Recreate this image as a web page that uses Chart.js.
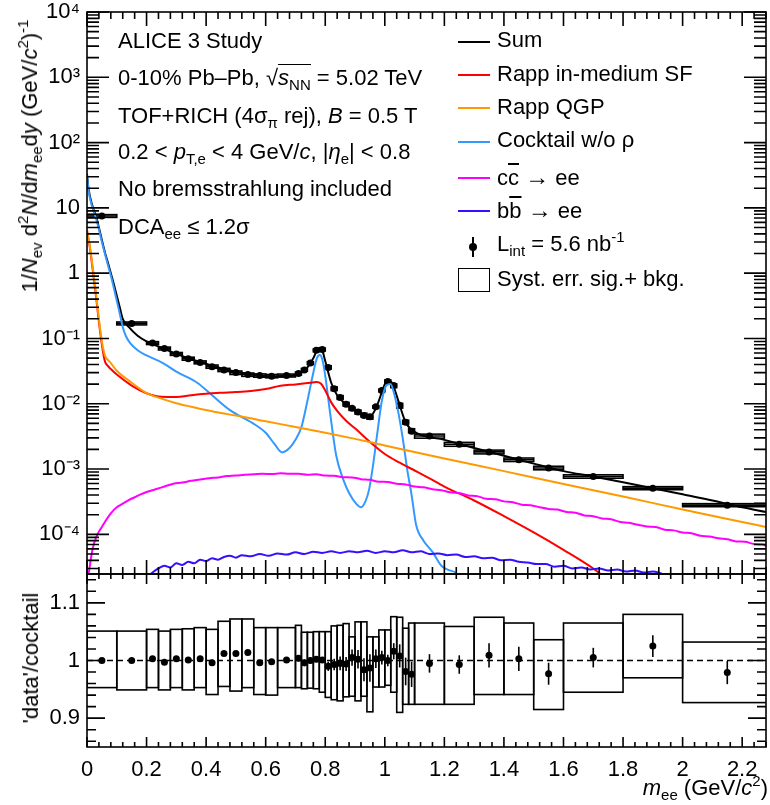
<!DOCTYPE html>
<html>
<head>
<meta charset="utf-8">
<title>ALICE 3 dielectron spectrum</title>
<script src="https://cdn.jsdelivr.net/npm/chart.js@4.4.1/dist/chart.umd.min.js"></script>
<style>
  body { margin: 0; background: #fff; }
  #page { position: relative; width: 770px; height: 805px; overflow: hidden;
          font-family: "Liberation Sans", Arial, Helvetica, sans-serif; color: #000; }
  canvas { position: absolute; left: 0; }
  #cTop { top: 0; }
  #cBot { top: 560px; }
  .t { position: absolute; font-size: 22px; line-height: 22px; white-space: nowrap; }
  .sb { font-size: 15px; position: relative; top: 5px; }
  .sp { font-size: 15px; position: relative; top: -9px; }
  .ov { text-decoration: overline; }
  .ln { position: absolute; left: 458px; width: 32px; height: 2px; }
</style>
</head>
<body>
<div id="page">
  <canvas id="cTop" width="770" height="580"></canvas>
  <canvas id="cBot" width="770" height="245"></canvas>

  <!-- annotations -->
  <div class="t" style="left:118px;top:30px">ALICE 3 Study</div>
  <div class="t" style="left:118px;top:67px">0-10% Pb–Pb, √<span style="border-top:1.5px solid #000"><i>s</i><span class="sb">NN</span></span> = 5.02 TeV</div>
  <div class="t" style="left:118px;top:105px">TOF+RICH (4σ<span class="sb">π</span> rej), <i>B</i> = 0.5 T</div>
  <div class="t" style="left:118px;top:141px">0.2 &lt; <i>p</i><span class="sb">T,e</span> &lt; 4 GeV/<i>c</i>, |<i>η</i><span class="sb">e</span>| &lt; 0.8</div>
  <div class="t" style="left:118px;top:178px">No bremsstrahlung included</div>
  <div class="t" style="left:118px;top:216px">DCA<span class="sb">ee</span> ≤ 1.2σ</div>

  <!-- legend -->
  <div class="ln" style="top:41px;background:#000"></div>
  <div class="t" style="left:497px;top:29px">Sum</div>
  <div class="ln" style="top:74px;background:#ff0000"></div>
  <div class="t" style="left:497px;top:63px">Rapp in-medium SF</div>
  <div class="ln" style="top:107px;background:#ff9900"></div>
  <div class="t" style="left:497px;top:96px">Rapp QGP</div>
  <div class="ln" style="top:141px;background:#3399ff"></div>
  <div class="t" style="left:497px;top:129px">Cocktail w/o ρ</div>
  <div class="ln" style="top:177px;background:#ff00ff"></div>
  <div class="t" style="left:497px;top:166px">c<span class="ov">c</span> <span style="font-size:24px">→</span> ee</div>
  <div class="ln" style="top:210px;background:#3311ff"></div>
  <div class="t" style="left:497px;top:199px">b<span class="ov">b</span> <span style="font-size:24px">→</span> ee</div>
  <div style="position:absolute;left:472px;top:237px;width:1.6px;height:20px;background:#000"></div>
  <div style="position:absolute;left:469px;top:243px;width:8px;height:8px;border-radius:50%;background:#000"></div>
  <div class="t" style="left:497px;top:233px">L<span class="sb">int</span> = 5.6 nb<span class="sp">-1</span></div>
  <div style="position:absolute;left:458px;top:268px;width:30px;height:22px;border:1.6px solid #000"></div>
  <div class="t" style="left:497px;top:268px">Syst. err. sig.+ bkg.</div>

  <!-- axis titles -->
  <div class="t" style="left:31px;top:156px;transform:translate(-50%,-50%) rotate(-90deg)">1/<i>N</i><span class="sb">ev</span> d<span class="sp">2</span><i>N</i>/d<i>m</i><span class="sb">ee</span>d<i>y</i> (GeV/<i>c</i><span class="sp">2</span>)<span class="sp">-1</span></div>
  <div class="t" style="left:31px;top:658px;transform:translate(-50%,-50%) rotate(-90deg)">'data'/cocktail</div>
  <div class="t" style="right:2px;top:777px"><i>m</i><span class="sb">ee</span> (GeV/<i>c</i><span class="sp">2</span>)</div>
</div>

<script>
// ---- axis ticks ----
var xTickValues = [0, 0.2, 0.4, 0.6, 0.8, 1.0, 1.2, 1.4, 1.6, 1.8, 2.0, 2.2];
var xTickLabels = ['0', '0.2', '0.4', '0.6', '0.8', '1', '1.2', '1.4', '1.6', '1.8', '2', '2.2'];
var yTickValues = [1e-4, 1e-3, 1e-2, 1e-1, 1, 10, 100, 1000, 10000];
var yTickLabels = ['10\u207B\u2074', '10\u207B\u00B3', '10\u207B\u00B2', '10\u207B\u00B9', '1', '10', '10\u00B2', '10\u00B3', '10\u2074'];
var rTickValues = [0.9, 1.0, 1.1];
var rTickLabels = ['0.9', '1', '1.1'];

// ---- measured points (bins) ----
var binEdges = [0, 0.1, 0.2, 0.24, 0.28, 0.32, 0.36, 0.40, 0.44, 0.48, 0.52, 0.56, 0.60, 0.64, 0.70,
  0.72, 0.74, 0.76, 0.78, 0.80, 0.82, 0.84, 0.86, 0.88, 0.90, 0.92, 0.94, 0.96, 0.98, 1.00,
  1.02, 1.04, 1.06, 1.08, 1.10, 1.2, 1.3, 1.4, 1.5, 1.6, 1.8, 2.0, 2.3];
var dataY = [7.5, 0.17, 0.085, 0.07, 0.058, 0.049, 0.043, 0.037, 0.033, 0.030, 0.028, 0.027, 0.0265, 0.027, 0.029,
  0.033, 0.042, 0.066, 0.068, 0.036, 0.017, 0.0125, 0.0098, 0.0085, 0.0075, 0.0066, 0.0063, 0.0090, 0.016, 0.022,
  0.019, 0.0095, 0.0052, 0.0038,
  0.0032, 0.0024, 0.00183, 0.00139, 0.00104, 0.00077, 0.00051, 0.00028];
var ratio = [1.0, 1.0, 1.003, 0.997, 1.003, 1.001, 1.003, 0.996, 1.012, 1.012, 1.014, 0.996, 0.998, 1.001, 1.004,
  0.996, 1.0, 1.002, 1.001, 0.99, 0.993, 0.995, 0.994, 1.005, 1.002, 0.984, 0.987, 1.003, 1.005, 1.0,
  1.016, 1.008, 0.981, 0.976,
  0.995, 0.993, 1.009, 1.003, 0.977, 1.005, 1.025, 0.979];
var ratioErr = [0.003, 0.003, 0.003, 0.003, 0.003, 0.003, 0.003, 0.003, 0.004, 0.004, 0.004, 0.004, 0.004, 0.004, 0.005,
  0.006, 0.006, 0.005, 0.005, 0.008, 0.01, 0.012, 0.012, 0.014, 0.016, 0.02, 0.024, 0.016, 0.012, 0.01,
  0.014, 0.02, 0.024, 0.022,
  0.016, 0.016, 0.021, 0.021, 0.019, 0.017, 0.019, 0.02];
var systLo = [0.953, 0.949, 0.953, 0.949, 0.953, 0.949, 0.953, 0.941, 0.955, 0.947, 0.953, 0.941, 0.940, 0.953, 0.953,
  0.951, 0.952, 0.951, 0.945, 0.936, 0.932, 0.930, 0.937, 0.938, 0.930, 0.938, 0.911, 0.954, 0.954, 0.957,
  0.945, 0.910, 0.924, 0.924,
  0.924, 0.924, 0.941, 0.941, 0.915, 0.945, 0.970, 0.927];
var systHi = [1.051, 1.051, 1.054, 1.051, 1.054, 1.055, 1.057, 1.054, 1.068, 1.072, 1.072, 1.057, 1.057, 1.057, 1.061,
  1.049, 1.049, 1.050, 1.050, 1.050, 1.060, 1.061, 1.064, 1.041, 1.067, 1.067, 1.041, 1.041, 1.053, 1.053,
  1.076, 1.075, 1.056, 1.065,
  1.065, 1.059, 1.075, 1.065, 1.036, 1.065, 1.080, 1.032];

// ---- curves ----
var sumX = [0, 0.005, 0.01, 0.02, 0.03, 0.04, 0.05, 0.06, 0.07, 0.08,
  0.09, 0.10, 0.11, 0.12, 0.14, 0.17, 0.20, 0.25, 0.30, 0.35,
  0.40, 0.45, 0.50, 0.55, 0.60, 0.65, 0.70, 0.72, 0.74, 0.76,
  0.77, 0.78, 0.79, 0.80, 0.82, 0.84, 0.87, 0.90, 0.93, 0.95,
  0.97, 0.99, 1.00, 1.01, 1.02, 1.03, 1.05, 1.07, 1.10, 1.2,
  1.3, 1.4, 1.5, 1.6, 1.7, 1.8, 1.9, 2.0, 2.1, 2.2, 2.28];
var sumY = [33, 20, 15, 10, 7.5, 5, 3.2, 2.1, 1.45, 1.0,
  0.68, 0.45, 0.3, 0.2, 0.15, 0.11, 0.09, 0.072, 0.058, 0.048,
  0.041, 0.035, 0.031, 0.028, 0.0265, 0.026, 0.0275, 0.03, 0.036, 0.05,
  0.063, 0.072, 0.066, 0.045, 0.021, 0.0135, 0.0098, 0.0078, 0.0066, 0.0064,
  0.0085, 0.015, 0.02, 0.0225, 0.022, 0.018, 0.0095, 0.0052, 0.0037, 0.0028,
  0.0021, 0.0016, 0.00121, 0.00093, 0.00077, 0.00063, 0.00051, 0.00041, 0.00033, 0.00026, 0.00022];

var cockX = [0, 0.005, 0.01, 0.02, 0.03, 0.04, 0.05, 0.06, 0.07, 0.08,
  0.09, 0.10, 0.11, 0.12, 0.13, 0.145, 0.17, 0.20, 0.255, 0.30,
  0.37, 0.42, 0.48, 0.555, 0.60, 0.63, 0.655, 0.68, 0.70, 0.72,
  0.74, 0.757, 0.772, 0.782, 0.79, 0.80, 0.815, 0.837, 0.86, 0.88,
  0.905, 0.92, 0.935, 0.947, 0.96, 0.975, 0.99, 1.005, 1.019, 1.03,
  1.045, 1.06, 1.075, 1.09, 1.105, 1.13, 1.16, 1.19, 1.24];
var cockY = [32, 19, 14, 9.5, 7, 4.7, 3.0, 2.0, 1.35, 0.92,
  0.6, 0.38, 0.24, 0.15, 0.11, 0.085, 0.066, 0.055, 0.042, 0.031,
  0.021, 0.0135, 0.008, 0.0051, 0.0036, 0.0024, 0.0018, 0.0021, 0.0028, 0.0044,
  0.011, 0.026, 0.05, 0.056, 0.048, 0.027, 0.008, 0.0016, 0.0007, 0.00043,
  0.00029, 0.00026, 0.00032, 0.00048, 0.0011, 0.0036, 0.011, 0.019, 0.02, 0.015,
  0.0075, 0.003, 0.001, 0.0004, 0.00014, 0.00008, 0.000054, 0.000033, 0.000026];

var rappX = [0, 0.01, 0.02, 0.03, 0.04, 0.05, 0.06, 0.07, 0.08,
  0.10, 0.15, 0.20, 0.25, 0.30, 0.35, 0.40, 0.45, 0.50, 0.55,
  0.60, 0.65, 0.70, 0.75, 0.77, 0.785, 0.80, 0.82, 0.84, 0.87,
  0.90, 0.95, 1.00, 1.05, 1.10, 1.15, 1.20, 1.30, 1.40, 1.50,
  1.60, 1.70, 1.75];
var rappY = [4.5, 2.4, 1.05, 0.45, 0.18, 0.08, 0.045, 0.038, 0.034,
  0.028, 0.019, 0.0145, 0.0128, 0.0127, 0.0135, 0.0142, 0.0147, 0.0151, 0.0157,
  0.0168, 0.0188, 0.0198, 0.021, 0.0215, 0.0205, 0.016, 0.0105, 0.0078, 0.0055,
  0.0042, 0.0026, 0.0017, 0.00125, 0.00095, 0.00072, 0.00054, 0.00033, 0.00019, 0.000107,
  0.000058, 0.00003, 0.00002];

var qgpX = [0, 0.01, 0.02, 0.03, 0.04, 0.05, 0.06, 0.07, 0.08,
  0.10, 0.15, 0.20, 0.25, 0.30, 0.35, 0.40, 0.45, 0.50,
  0.60, 0.70, 0.80, 0.90, 1.00, 1.20, 1.40, 1.60, 1.80, 2.00, 2.20, 2.28];
var qgpY = [4.6, 2.5, 1.15, 0.5, 0.2, 0.09, 0.055, 0.047, 0.042,
  0.032, 0.021, 0.0146, 0.012, 0.0102, 0.009, 0.008, 0.0072, 0.0066,
  0.0054, 0.0044, 0.0036, 0.0029, 0.0023, 0.00145, 0.00093, 0.00059, 0.00038, 0.00024, 0.000155, 0.00013];

var ccX = [0.005, 0.01, 0.015, 0.02, 0.03, 0.04, 0.05, 0.06, 0.08, 0.10,
  0.12, 0.14, 0.16, 0.18, 0.20, 0.23, 0.26, 0.29, 0.32, 0.35,
  0.38, 0.41, 0.44, 0.47, 0.50, 0.53, 0.56, 0.59, 0.62, 0.65,
  0.68, 0.71, 0.74, 0.77, 0.80, 0.83, 0.86, 0.89, 0.92, 0.95,
  0.98, 1.01, 1.04, 1.07, 1.10, 1.13, 1.16, 1.19, 1.22, 1.25,
  1.28, 1.31, 1.34, 1.37, 1.40, 1.43, 1.46, 1.49, 1.52, 1.55,
  1.58, 1.61, 1.64, 1.67, 1.70, 1.73, 1.76, 1.79, 1.82, 1.85,
  1.88, 1.91, 1.94, 1.97, 2.00, 2.03, 2.06, 2.09, 2.12, 2.15,
  2.18, 2.21, 2.24, 2.27, 2.28];
var ccY = [2.4e-5, 3.4e-5, 4.8e-5, 6.3e-5, 8.8e-5, 1.1e-4, 1.3e-4, 1.55e-4, 2.1e-4, 2.6e-4,
  2.95e-4, 3.35e-4, 3.7e-4, 4.1e-4, 4.45e-4, 4.9e-4, 5.4e-4, 5.95e-4, 6.2e-4, 6.6e-4,
  6.9e-4, 7.25e-4, 7.45e-4, 7.8e-4, 7.95e-4, 8.2e-4, 8.3e-4, 8.45e-4, 8.4e-4, 8.6e-4,
  8.45e-4, 8.5e-4, 8.2e-4, 8.3e-4, 7.95e-4, 7.9e-4, 7.5e-4, 7.45e-4, 7.0e-4, 6.85e-4,
  6.4e-4, 6.35e-4, 5.95e-4, 5.8e-4, 5.4e-4, 5.25e-4, 4.9e-4, 4.75e-4, 4.4e-4, 4.3e-4,
  3.95e-4, 3.85e-4, 3.5e-4, 3.45e-4, 3.2e-4, 3.1e-4, 2.85e-4, 2.8e-4, 2.6e-4, 2.45e-4,
  2.4e-4, 2.2e-4, 2.15e-4, 1.95e-4, 1.9e-4, 1.75e-4, 1.7e-4, 1.55e-4, 1.5e-4, 1.4e-4,
  1.32e-4, 1.3e-4, 1.18e-4, 1.15e-4, 1.07e-4, 1.04e-4, 9.5e-5, 9.3e-5, 8.7e-5, 8.4e-5,
  7.8e-5, 7.7e-5, 7.1e-5, 7.0e-5, 6.6e-5];

var bbX = [0.20, 0.22, 0.24, 0.26, 0.28, 0.30, 0.32, 0.34, 0.36, 0.38,
  0.40, 0.42, 0.44, 0.46, 0.48, 0.50, 0.52, 0.55, 0.58, 0.61,
  0.64, 0.67, 0.70, 0.73, 0.76, 0.79, 0.82, 0.85, 0.88, 0.91,
  0.94, 0.97, 1.00, 1.03, 1.06, 1.09, 1.12, 1.15, 1.18, 1.21,
  1.24, 1.27, 1.30, 1.33, 1.36, 1.39, 1.42, 1.45, 1.48, 1.51,
  1.54, 1.57, 1.60, 1.63, 1.66, 1.69, 1.72, 1.75, 1.78, 1.81,
  1.84, 1.87, 1.90, 1.93];
var bbY = [2.2e-5, 2.6e-5, 3.0e-5, 3.3e-5, 3.1e-5, 3.6e-5, 3.4e-5, 3.8e-5, 3.6e-5, 4.1e-5,
  3.9e-5, 4.3e-5, 4.1e-5, 4.5e-5, 4.7e-5, 4.4e-5, 4.8e-5, 4.6e-5, 5.0e-5, 4.7e-5,
  5.1e-5, 4.9e-5, 5.3e-5, 5.0e-5, 5.4e-5, 5.2e-5, 5.5e-5, 5.2e-5, 5.5e-5, 5.3e-5,
  5.6e-5, 5.2e-5, 5.5e-5, 5.3e-5, 5.7e-5, 5.3e-5, 5.5e-5, 5.0e-5, 5.1e-5, 4.8e-5,
  4.9e-5, 4.5e-5, 4.6e-5, 4.3e-5, 4.4e-5, 4.0e-5, 4.1e-5, 3.8e-5, 3.7e-5, 3.5e-5,
  3.5e-5, 3.2e-5, 3.3e-5, 3.0e-5, 3.1e-5, 2.9e-5, 3.0e-5, 2.8e-5, 2.9e-5, 2.7e-5,
  2.8e-5, 2.6e-5, 2.7e-5, 2.5e-5];

Chart.defaults.font.family = '"Liberation Sans", Arial, Helvetica, sans-serif';
Chart.defaults.font.size = 22;
Chart.defaults.color = '#000';

function pts(xs, ys) {
  return xs.map(function (x, i) { return { x: x, y: ys[i] }; });
}
var binCenters = [];
for (var i = 0; i < binEdges.length - 1; i++) binCenters.push((binEdges[i] + binEdges[i + 1]) / 2);

function curve(label, xs, ys, color) {
  return {
    label: label, data: pts(xs, ys), showLine: true, borderColor: color,
    borderWidth: 2, pointRadius: 0, cubicInterpolationMode: 'monotone', fill: false
  };
}

// minor tick helpers (axis decoration only)
function linMinor(step, max) {
  var out = [];
  for (var v = 0; v <= max + 1e-9; v += step) out.push(+v.toFixed(4));
  return out;
}
function logMinor(lo, hi) {
  var out = [];
  for (var e = -5; e <= 4; e++) {
    for (var m = 2; m <= 9; m++) {
      var v = m * Math.pow(10, e);
      if (v > lo && v < hi) out.push(v);
    }
  }
  return out;
}
// keep the plot frame where the layout puts it: no extra room for edge labels
function noEdgePadding(s) {
  s.paddingTop = 0; s.paddingBottom = 0; s.paddingLeft = 0; s.paddingRight = 0;
}

// frame with inward ROOT-style ticks on all sides
var frameTicks = {
  id: 'frameTicks',
  afterDraw: function (chart, args, o) {
    var ctx = chart.ctx, a = chart.chartArea, sx = chart.scales.x, sy = chart.scales.y;
    ctx.save();
    ctx.strokeStyle = '#000';
    ctx.lineWidth = 1.6;
    ctx.beginPath();
    function xt(list, len) {
      list.forEach(function (v) {
        var p = sx.getPixelForValue(v);
        if (p < a.left - 0.5 || p > a.right + 0.5) return;
        ctx.moveTo(p, a.bottom); ctx.lineTo(p, a.bottom - len);
        ctx.moveTo(p, a.top); ctx.lineTo(p, a.top + len);
      });
    }
    function yt(list, len) {
      list.forEach(function (v) {
        var p = sy.getPixelForValue(v);
        if (p < a.top - 0.5 || p > a.bottom + 0.5) return;
        ctx.moveTo(a.left, p); ctx.lineTo(a.left + len, p);
        ctx.moveTo(a.right, p); ctx.lineTo(a.right - len, p);
      });
    }
    xt(o.xMajor, o.xLen[0]); xt(o.xMinor, o.xLen[1]);
    yt(o.yMajor, o.yLen[0]); yt(o.yMinor, o.yLen[1]);
    ctx.stroke();
    ctx.strokeRect(a.left, a.top, a.right - a.left, a.bottom - a.top);
    ctx.restore();
  }
};

// syst boxes and stat error bars, positioned by the chart scales
var errorBoxes = {
  id: 'errorBoxes',
  beforeDatasetsDraw: function (chart, args, o) {
    var ctx = chart.ctx, a = chart.chartArea, sx = chart.scales.x, sy = chart.scales.y;
    ctx.save();
    ctx.beginPath();
    ctx.rect(a.left, a.top, a.right - a.left, a.bottom - a.top);
    ctx.clip();
    ctx.strokeStyle = '#000';
    ctx.lineWidth = 1.6;
    for (var i = 0; i < o.vals.length; i++) {
      var x0 = sx.getPixelForValue(binEdges[i]), x1 = sx.getPixelForValue(binEdges[i + 1]);
      var b0 = sy.getPixelForValue(o.boxLo[i]), b1 = sy.getPixelForValue(o.boxHi[i]);
      ctx.strokeRect(x0, b1, x1 - x0, b0 - b1);
      var xc = sx.getPixelForValue(binCenters[i]);
      ctx.beginPath();
      ctx.moveTo(xc, sy.getPixelForValue(o.vals[i] - o.errs[i]));
      ctx.lineTo(xc, sy.getPixelForValue(o.vals[i] + o.errs[i]));
      if (o.xBars) {
        var yc = sy.getPixelForValue(o.vals[i]);
        ctx.moveTo(x0, yc); ctx.lineTo(x1, yc);
      }
      ctx.stroke();
    }
    ctx.restore();
  }
};

var xMinorTicks = linMinor(0.04, 2.28);

// ---------- top panel ----------
new Chart(document.getElementById('cTop'), {
  type: 'scatter',
  data: {
    datasets: [
      curve('bb', bbX, bbY, '#3311ff'),
      curve('cc', ccX, ccY, '#ff00ff'),
      curve('Rapp QGP', qgpX, qgpY, '#ff9900'),
      curve('Rapp in-medium SF', rappX, rappY, '#ff0000'),
      curve('Cocktail w/o rho', cockX, cockY, '#3399ff'),
      curve('Sum', sumX, sumY, '#000000'),
      {
        label: 'data', data: pts(binCenters, dataY),
        pointRadius: 3.5, pointBackgroundColor: '#000', pointBorderColor: '#000', pointBorderWidth: 0
      }
    ]
  },
  options: {
    responsive: false,
    animation: false,
    layout: { padding: { top: 12, right: 2, bottom: 6, left: 0 } },
    plugins: {
      legend: { display: false },
      tooltip: { enabled: false },
      errorBoxes: {
        vals: dataY,
        errs: dataY.map(function (v, i) { return v * ratioErr[i]; }),
        boxLo: dataY.map(function (v, i) { return v * systLo[i] / ratio[i]; }),
        boxHi: dataY.map(function (v, i) { return v * systHi[i] / ratio[i]; }),
        xBars: true
      },
      frameTicks: {
        xMajor: xTickValues, xMinor: xMinorTicks, xLen: [14, 7],
        yMajor: yTickValues, yMinor: logMinor(2.47e-5, 1e4), yLen: [22, 12]
      }
    },
    scales: {
      x: { type: 'linear', min: 0, max: 2.28, display: false, afterFit: noEdgePadding },
      y: {
        type: 'logarithmic', min: 2.47e-5, max: 1e4,
        grid: { display: false, drawTicks: false, tickLength: 0 },
        border: { display: false },
        afterFit: function (s) { s.width = 87; noEdgePadding(s); },
        afterBuildTicks: function (s) { s.ticks = yTickValues.map(function (v) { return { value: v }; }); },
        ticks: {
          padding: 7, autoSkip: false, font: { size: 22 },
          callback: function (v, i) { return yTickLabels[i]; }
        }
      }
    }
  },
  plugins: [errorBoxes, frameTicks]
});

// ---------- ratio panel ----------
var ratioRefX = [0, 2.28];
var ratioRefY = [1, 1];

new Chart(document.getElementById('cBot'), {
  type: 'scatter',
  data: {
    datasets: [
      {
        label: 'unity', data: pts(ratioRefX, ratioRefY), showLine: true,
        borderColor: '#000', borderWidth: 1.6, borderDash: [6, 4], pointRadius: 0
      },
      {
        label: 'ratio', data: pts(binCenters, ratio),
        pointRadius: 3.5, pointBackgroundColor: '#000', pointBorderColor: '#000', pointBorderWidth: 0
      }
    ]
  },
  options: {
    responsive: false,
    animation: false,
    layout: { padding: { top: 14, right: 2, bottom: 0, left: 0 } },
    plugins: {
      legend: { display: false },
      tooltip: { enabled: false },
      errorBoxes: { vals: ratio, errs: ratioErr, boxLo: systLo, boxHi: systHi, xBars: false },
      frameTicks: {
        xMajor: xTickValues, xMinor: xMinorTicks, xLen: [10, 5],
        yMajor: rTickValues, yMinor: linMinor(0.02, 1.16).filter(function (v) { return v > 0.85 && v < 1.15; }), yLen: [18, 9]
      }
    },
    scales: {
      x: {
        type: 'linear', min: 0, max: 2.28,
        grid: { display: false, drawTicks: false, tickLength: 0 },
        border: { display: false },
        afterFit: function (s) { s.height = 58; noEdgePadding(s); },
        afterBuildTicks: function (s) { s.ticks = xTickValues.map(function (v) { return { value: v }; }); },
        ticks: {
          padding: 10, autoSkip: false, maxRotation: 0, font: { size: 22 },
          callback: function (v, i) { return xTickLabels[i]; }
        }
      },
      y: {
        type: 'linear', min: 0.85, max: 1.15,
        grid: { display: false, drawTicks: false, tickLength: 0 },
        border: { display: false },
        afterFit: function (s) { s.width = 87; noEdgePadding(s); },
        afterBuildTicks: function (s) { s.ticks = rTickValues.map(function (v) { return { value: v }; }); },
        ticks: {
          padding: 7, autoSkip: false, font: { size: 22 },
          callback: function (v, i) { return rTickLabels[i]; }
        }
      }
    }
  },
  plugins: [errorBoxes, frameTicks]
});
</script>
</body>
</html>
